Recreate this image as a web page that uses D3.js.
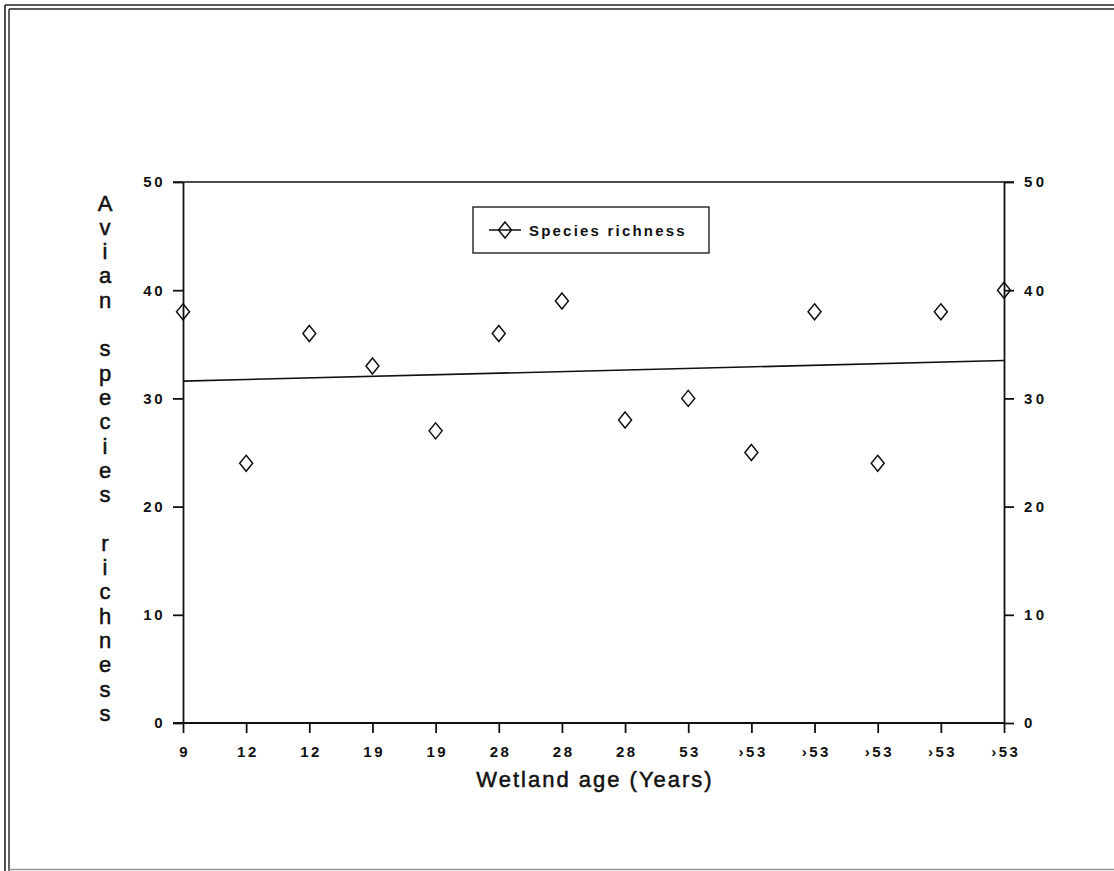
<!DOCTYPE html>
<html>
<head>
<meta charset="utf-8">
<script src="https://cdn.jsdelivr.net/npm/d3@7"></script>
<style>
  html, body { margin: 0; padding: 0; background: #fff; }
  svg { display: block; }
  text { font-family: "Liberation Sans", Arial, sans-serif; fill: #111; }
</style>
</head>
<body>
<svg id="chart" width="1114" height="871"></svg>
<script>
// ---- data ----
const ageLabels = ["9", "12", "12", "19", "19", "28", "28", "28", "53", "\u203a53", "\u203a53", "\u203a53", "\u203a53", "\u203a53"];
const richness = [38, 24, 36, 33, 27, 36, 39, 28, 30, 25, 38, 24, 38, 40];
const yTicks = [0, 10, 20, 30, 40, 50];
const trendStart = 31.6;
const trendEnd = 33.5;
const seriesName = "Species richness";
const yTitle = "Avian species richness";
const xTitle = "Wetland age (Years)";

(function () {
// ---- layout ----
const svg = d3.select("#chart");
const pLeft = 183, pRight = 1004, pTop = 182, pBottom = 723;

const idx = d3.range(ageLabels.length);
const x = d3.scalePoint().domain(idx).range([pLeft, pRight]).padding(0);
const y = d3.scaleLinear().domain([0, 50]).range([pBottom, pTop]);

// outer frame (double line, left & top), faint bottom
const frame = svg.append("g").attr("stroke", "#222").attr("fill", "none");
frame.append("line").attr("x1", 5).attr("x2", 5).attr("y1", 5).attr("y2", 871).attr("stroke-width", 1.6);
frame.append("line").attr("x1", 9).attr("x2", 9).attr("y1", 9).attr("y2", 871).attr("stroke-width", 1.4);
frame.append("line").attr("x1", 5).attr("x2", 1114).attr("y1", 5).attr("y2", 5).attr("stroke-width", 1.6);
frame.append("line").attr("x1", 9).attr("x2", 1114).attr("y1", 9).attr("y2", 9).attr("stroke-width", 1.4);
frame.append("line").attr("x1", 9).attr("x2", 1114).attr("y1", 869.5).attr("y2", 869.5).attr("stroke-width", 1.5).attr("stroke", "#999");

const tickFont = g => g.selectAll("text")
  .attr("font-size", 15).attr("font-weight", "bold").attr("letter-spacing", "2.5px").style("fill", "#111");

// left axis
const yAxisL = svg.append("g").attr("transform", `translate(${pLeft},0)`)
  .call(d3.axisLeft(y).tickValues(yTicks).tickSize(10).tickPadding(8).tickSizeOuter(0));
yAxisL.call(tickFont);
yAxisL.selectAll("line, path").attr("stroke", "#111").attr("stroke-width", 1.8);

// right axis
const yAxisR = svg.append("g").attr("transform", `translate(${pRight},0)`)
  .call(d3.axisRight(y).tickValues(yTicks).tickSize(10).tickPadding(10).tickSizeOuter(0));
yAxisR.call(tickFont);
yAxisR.selectAll("line, path").attr("stroke", "#111").attr("stroke-width", 1.8);
yAxisR.selectAll("text").attr("letter-spacing", "3.5px");

// bottom axis
const xAxis = svg.append("g").attr("transform", `translate(0,${pBottom})`)
  .call(d3.axisBottom(x).tickFormat(i => ageLabels[i]).tickSize(10).tickPadding(13).tickSizeOuter(0));
xAxis.call(tickFont);
xAxis.selectAll("text").attr("dx", "1.25");
xAxis.selectAll("line, path").attr("stroke", "#111").attr("stroke-width", 1.8);
xAxis.select("path.domain").attr("d", `M${pLeft - 10},0H${pRight}`);

// top border
svg.append("line").attr("x1", pLeft - 10).attr("x2", pRight + 10)
  .attr("y1", y(50)).attr("y2", y(50)).attr("stroke", "#111").attr("stroke-width", 1.6);

// trend line
svg.append("line")
  .attr("x1", x(0)).attr("y1", y(trendStart))
  .attr("x2", x(idx.length - 1)).attr("y2", y(trendEnd))
  .attr("stroke", "#111").attr("stroke-width", 1.6);

// diamonds
const diamond = (cx, cy) => `M${cx},${cy - 8}L${cx + 6.5},${cy}L${cx},${cy + 8}L${cx - 6.5},${cy}Z`;
svg.append("g").selectAll("path").data(richness).join("path")
  .attr("d", (d, i) => diamond(x(i), y(d)))
  .attr("fill", "none").attr("stroke", "#111").attr("stroke-width", 1.5);

// legend
const lg = svg.append("g");
lg.append("rect").attr("x", 473).attr("y", 207).attr("width", 236).attr("height", 46)
  .attr("fill", "none").attr("stroke", "#222").attr("stroke-width", 1.4);
lg.append("line").attr("x1", 489).attr("x2", 521).attr("y1", 230).attr("y2", 230)
  .attr("stroke", "#111").attr("stroke-width", 1.5);
lg.append("path").attr("d", diamond(505, 230)).attr("fill", "none").attr("stroke", "#111").attr("stroke-width", 1.5);
lg.append("text").attr("x", 529).attr("y", 236).attr("font-size", 15).attr("font-weight", "bold")
  .attr("letter-spacing", "2.2px").text(seriesName);

// y title: stacked letters
const chars = yTitle.split("");
svg.append("g").selectAll("text").data(chars).join("text")
  .attr("x", 105).attr("y", (d, i) => 203 + i * 24.3)
  .attr("text-anchor", "middle").attr("dominant-baseline", "central")
  .attr("font-size", 22).attr("stroke", "#111").attr("stroke-width", 0.5)
  .text(d => d);

// x title
svg.append("text").attr("x", 595).attr("y", 787).attr("text-anchor", "middle")
  .attr("font-size", 22).attr("letter-spacing", "2px").attr("stroke", "#111").attr("stroke-width", 0.5)
  .text(xTitle);
})();
</script>
</body>
</html>
